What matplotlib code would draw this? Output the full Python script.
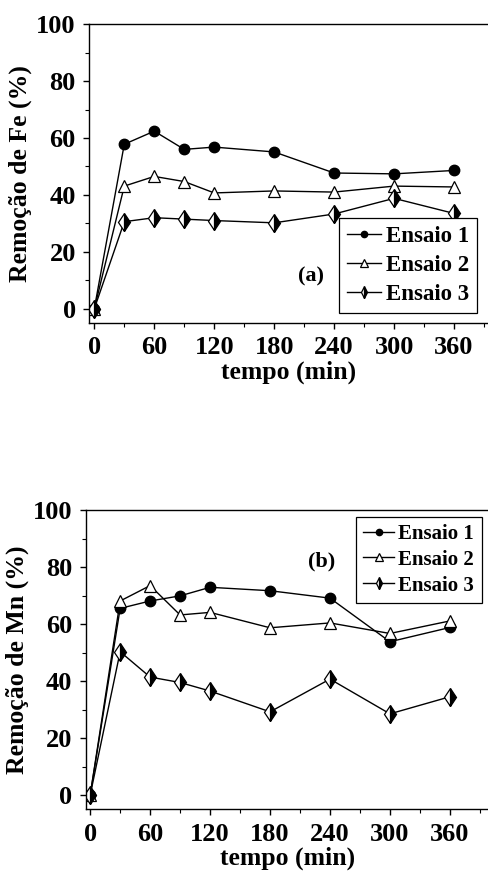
import matplotlib
matplotlib.use("Agg")
import matplotlib.pyplot as plt
from matplotlib.ticker import MultipleLocator

plt.rcParams['font.family'] = ['Liberation Serif', 'DejaVu Serif']
plt.rcParams['font.weight'] = 'bold'

tempo = [0, 30, 60, 90, 120, 180, 240, 300, 360]

fe_ensaio1 = [0, 57.8, 62.4, 56.0, 56.8, 55.1, 47.7, 47.4, 48.6]
fe_ensaio2 = [0, 43.1, 46.5, 44.7, 40.7, 41.4, 41.0, 43.1, 42.8]
fe_ensaio3 = [0, 30.6, 32.0, 31.5, 31.0, 30.2, 33.3, 38.8, 33.5]

mn_ensaio1 = [0, 65.5, 68.1, 69.9, 72.9, 71.7, 69.1, 53.8, 58.8]
mn_ensaio2 = [0, 68.1, 73.5, 63.2, 64.1, 58.7, 60.4, 56.7, 61.1]
mn_ensaio3 = [0, 50.3, 41.4, 39.5, 36.5, 29.2, 40.7, 28.5, 34.5]

series_names = ["Ensaio 1", "Ensaio 2", "Ensaio 3"]
xticks = [0, 60, 120, 180, 240, 300, 360]
yticks = [0, 20, 40, 60, 80, 100]

fig = plt.figure(figsize=(4.89, 8.74), dpi=100)

styles = [
    dict(marker='o', markersize=7.5, markerfacecolor='black', markeredgecolor='black'),
    dict(marker='^', markersize=8.5, markerfacecolor='white', markeredgecolor='black',
         markeredgewidth=0.9),
    dict(marker='d', markersize=9.5, fillstyle='right', markerfacecolor='black',
         markerfacecoloralt='white', markeredgecolor='black', markeredgewidth=0.9),
]


def draw_panel(ax, data, ylabel, tag, tag_xy, legend_loc, legend_size,
               spacing, xlim):
    for vals, name, st in zip(data, series_names, styles):
        ax.plot(tempo, vals, color='black', linewidth=1.0, label=name, **st)
    ax.set_xlim(*xlim)
    ax.set_ylim(-5, 100)
    ax.set_xticks(xticks)
    ax.set_yticks(yticks)
    ax.xaxis.set_minor_locator(MultipleLocator(30))
    ax.yaxis.set_minor_locator(MultipleLocator(10))
    ax.tick_params(which='major', direction='out', length=4.5, width=1,
                   labelsize=19, top=False, right=False, pad=5)
    ax.tick_params(which='minor', direction='out', length=3, width=0.8,
                   top=False, right=False)
    for lab in ax.get_xticklabels() + ax.get_yticklabels():
        lab.set_fontweight('bold')
    ax.spines['right'].set_visible(False)
    for s in ['left', 'bottom', 'top']:
        ax.spines[s].set_linewidth(1.0)
    ax.set_xlabel("tempo (min)", fontsize=18.5, fontweight='bold', labelpad=1)
    ax.set_ylabel(ylabel, fontsize=18.5, fontweight='bold', labelpad=3)
    ax.text(tag_xy[0], tag_xy[1], tag, fontsize=16, fontweight='bold',
            ha='center', va='center')
    leg = ax.legend(loc=legend_loc, fontsize=legend_size, frameon=True,
                    fancybox=False, edgecolor='black', framealpha=1,
                    handlelength=1.5, handletextpad=0.2, borderpad=0.35,
                    labelspacing=spacing, markerscale=0.6, borderaxespad=0.4)
    leg.get_frame().set_linewidth(0.9)
    for t in leg.get_texts():
        t.set_fontweight('bold')


ax1 = fig.add_axes([0.182, 0.6304, 0.818, 0.342])
draw_panel(ax1, [fe_ensaio1, fe_ensaio2, fe_ensaio3], "Remoção de Fe (%)",
           "(a)", (217, 11.5), (0.625, 0.035), 16.5, 0.33, (-5.3, 395))

ax2 = fig.add_axes([0.175, 0.074, 0.8247, 0.3424])
draw_panel(ax2, [mn_ensaio1, mn_ensaio2, mn_ensaio3], "Remoção de Mn (%)",
           "(b)", (232, 82), (0.67, 0.69), 15, 0.28, (-4.6, 399))

fig.savefig("out.png", dpi=100)
